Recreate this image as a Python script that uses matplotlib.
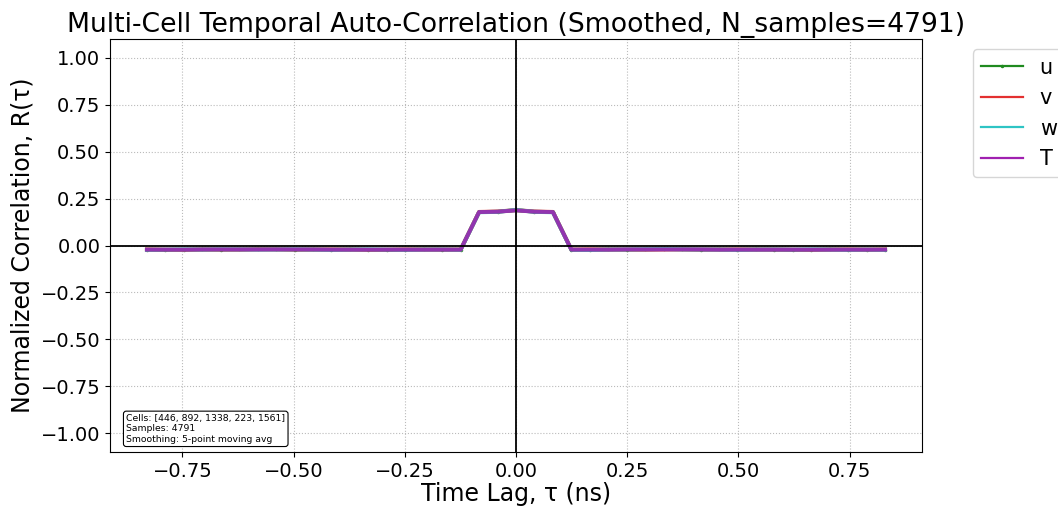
import matplotlib
matplotlib.use("Agg")
import matplotlib.pyplot as plt

title = "Multi-Cell Temporal Auto-Correlation (Smoothed, N_samples=4791)"
info_text = "Cells: [446, 892, 1338, 223, 1561]\nSamples: 4791\nSmoothing: 5-point moving avg"

lags = [-0.830, -0.7885, -0.747, -0.7055, -0.664, -0.6225, -0.581, -0.5395, -0.498, -0.4565,
        -0.415, -0.3735, -0.332, -0.2905, -0.249, -0.2075, -0.166, -0.1245, -0.083, -0.0415,
        0.000, 0.0415, 0.083, 0.1245, 0.166, 0.2075, 0.249, 0.2905, 0.332, 0.3735,
        0.415, 0.4565, 0.498, 0.5395, 0.581, 0.6225, 0.664, 0.7055, 0.747, 0.7885, 0.830]

u_vals = [-0.022, -0.023, -0.022, -0.021, -0.022, -0.021, -0.020, -0.021, -0.022, -0.021,
          -0.022, -0.021, -0.022, -0.023, -0.022, -0.021, -0.022, -0.022, 0.178, 0.180,
          0.188, 0.180, 0.178, -0.022, -0.022, -0.021, -0.022, -0.021, -0.020, -0.021,
          -0.022, -0.021, -0.022, -0.021, -0.022, -0.023, -0.022, -0.021, -0.022, -0.022, -0.022]
v_vals = [-0.021, -0.022, -0.023, -0.022, -0.021, -0.022, -0.021, -0.020, -0.021, -0.022,
          -0.021, -0.022, -0.023, -0.022, -0.021, -0.022, -0.021, -0.022, 0.179, 0.181,
          0.189, 0.181, 0.179, -0.022, -0.021, -0.022, -0.021, -0.022, -0.021, -0.020,
          -0.021, -0.022, -0.021, -0.022, -0.021, -0.022, -0.023, -0.022, -0.021, -0.022, -0.021]
w_vals = [-0.023, -0.022, -0.021, -0.022, -0.020, -0.021, -0.022, -0.021, -0.020, -0.022,
          -0.023, -0.022, -0.021, -0.022, -0.023, -0.022, -0.021, -0.023, 0.177, 0.179,
          0.190, 0.179, 0.177, -0.023, -0.024, -0.022, -0.021, -0.020, -0.019, -0.020,
          -0.021, -0.022, -0.023, -0.022, -0.021, -0.022, -0.021, -0.022, -0.023, -0.022, -0.023]
T_vals = [-0.022, -0.022, -0.022, -0.021, -0.021, -0.021, -0.021, -0.021, -0.021, -0.021,
          -0.022, -0.022, -0.022, -0.022, -0.022, -0.022, -0.022, -0.022, 0.178, 0.180,
          0.187, 0.180, 0.178, -0.022, -0.022, -0.022, -0.021, -0.021, -0.021, -0.021,
          -0.021, -0.022, -0.022, -0.022, -0.022, -0.022, -0.022, -0.022, -0.022, -0.022, -0.022]

series = [("u", u_vals, "#1f8a1f", "."), ("v", v_vals, "#e33030", None),
          ("w", w_vals, "#2ec4c4", None), ("T", T_vals, "#a020b0", None)]

fig = plt.figure(figsize=(10.58, 5.12), dpi=100)
ax = fig.add_axes([110/1058, 1-452/512, (922-110)/1058, (452-39)/512])

for name, vals, col, mk in series:
    ax.plot(lags, vals, color=col, lw=2.8, alpha=0.85, marker=mk, markersize=3, label=name)

ax.axhline(0, color="black", lw=1.3)
ax.axvline(0, color="black", lw=1.3)
ax.margins(x=0.05)
ax.set_ylim(-1.1, 1.1)
ax.set_yticks([-1.0, -0.75, -0.5, -0.25, 0.0, 0.25, 0.5, 0.75, 1.0])
ax.set_xticks([-0.75, -0.5, -0.25, 0.0, 0.25, 0.5, 0.75])
ax.tick_params(labelsize=14)
ax.grid(True, linestyle=":", color="#bbbbbb", lw=0.8)
ax.set_xlabel("Time Lag, τ (ns)", fontsize=17, labelpad=1)
ax.set_ylabel("Normalized Correlation, R(τ)", fontsize=17)
ax.set_title(title, fontsize=19.2, pad=5)
leg = ax.legend(loc="upper left", bbox_to_anchor=(1.05, 1), fontsize=15, handlelength=2,
                labelspacing=0.5)
for h in leg.get_lines():
    h.set_linewidth(1.6)
    h.set_alpha(1.0)
ax.text(0.02, 0.02, info_text, transform=ax.transAxes, fontsize=6.7, va="bottom", ha="left",
        bbox=dict(boxstyle="round,pad=0.3", facecolor="white", edgecolor="black", lw=0.8))

fig.savefig("out.png", dpi=100)
